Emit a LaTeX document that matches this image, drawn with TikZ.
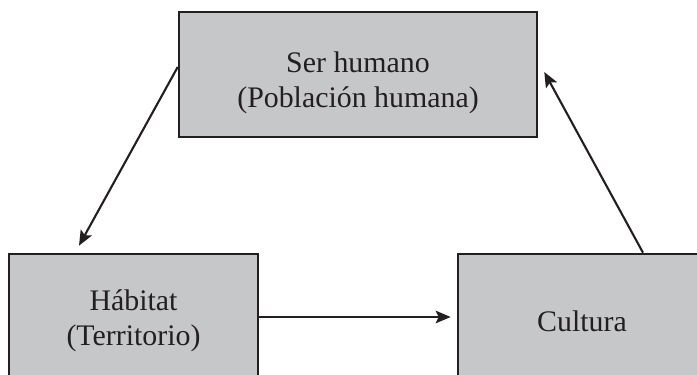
\documentclass[tikz,border=0pt]{standalone}
\usepackage{fontspec}
\setmainfont{Liberation Serif}
\usetikzlibrary{arrows.meta}
\definecolor{cajagris}{HTML}{C6C7C9}
\definecolor{bordeos}{HTML}{231F20}

\begin{document}
\begin{tikzpicture}[x=0.02cm,y=-0.02cm,
    caja/.style={draw=bordeos, line width=1.5pt, fill=cajagris, align=center,
      font=\fontsize{17}{20}\selectfont, text=bordeos},
    flecha/.style={draw=bordeos, line width=1.2pt,
      -{Stealth[length=0.3cm, width=0.25cm, inset=0.06cm]}}]
    \useasboundingbox (0,0) rectangle (697,375);
    % Cajas
    \node[caja, minimum width=7.16cm, minimum height=2.5cm] (humano) at (358,74.5)
      {\rule{0pt}{0.74cm}Ser humano\\(Población humana)};
    \node[caja, minimum width=4.98cm, minimum height=2.68cm] (habitat) at (133.5,321)
      {Hábitat\\(Territorio)};
    \node[caja, minimum width=4.96cm, minimum height=2.68cm] (cultura) at (582,321)
      {Cultura};
    % Flechas
    \draw[flecha] ([yshift=0.15cm]humano.west) -- ([shift={(-54.5,-7)}]habitat.north);
    \draw[flecha] ([shift={(0,-4)}]habitat.east) -- ([shift={(-6,-4)}]cultura.west);
    \draw[flecha] ([shift={(61,0)}]cultura.north) -- ([shift={(6,-2.5)}]humano.east);
\end{tikzpicture}
\end{document}
